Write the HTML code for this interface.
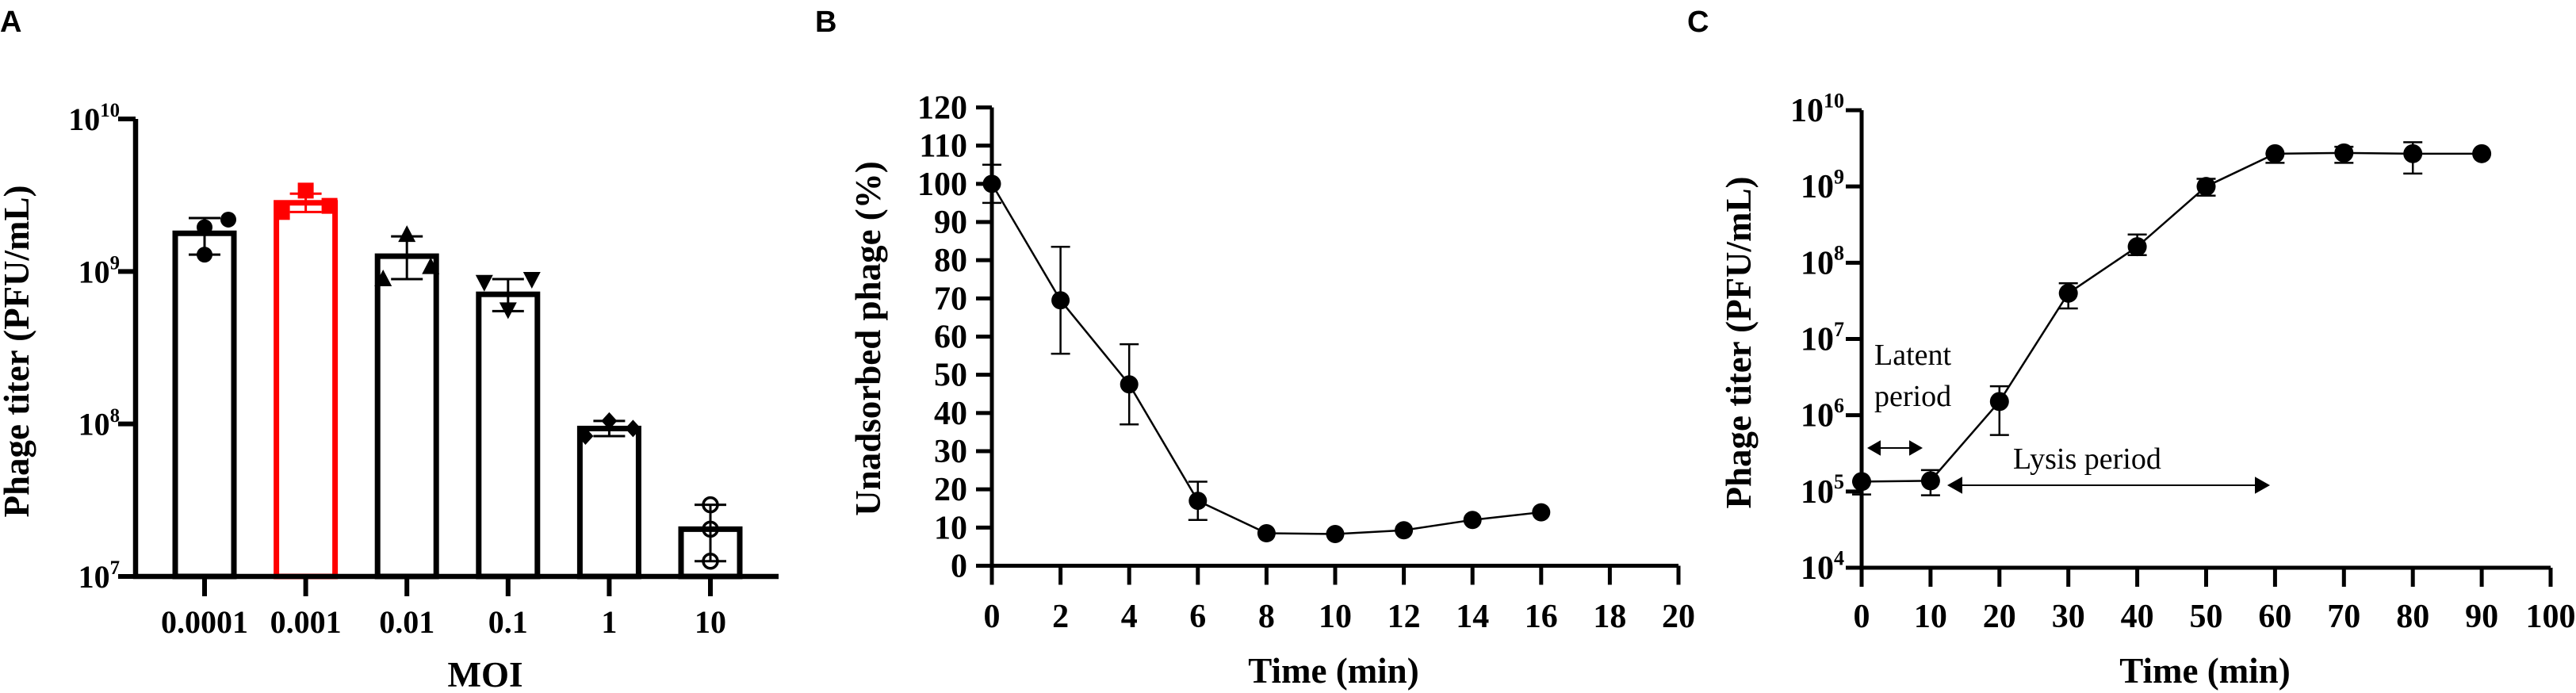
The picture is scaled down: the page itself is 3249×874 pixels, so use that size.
<!DOCTYPE html>
<html><head><meta charset="utf-8"><style>
html,body{margin:0;padding:0;background:#fff;}
svg{display:block;}
text{font-family:"Liberation Serif",serif;font-weight:bold;fill:#000;}
.pl{font-family:"Liberation Sans",sans-serif;font-weight:bold;font-size:38px;}
</style></head><body>
<svg id="fig" width="3249" height="874" viewBox="0 0 3249 874" xmlns="http://www.w3.org/2000/svg">
<text class="pl" x="0" y="40">A</text>
<text class="pl" x="1028" y="40">B</text>
<text class="pl" x="2128" y="40">C</text>
<g id="ga"></g>
<g id="gb"></g>
<g id="gc"></g>
</svg>
<script>
// Panel A data (log10 PFU/mL)
const moiLabels = ["0.0001","0.001","0.01","0.1","1","10"];
const barMeans = [9.25, 9.45, 9.10, 8.85, 7.97, 7.31];
const barErrHi = [9.35, 9.51, 9.23, 8.95, 8.02, 7.47];
const barErrLo = [9.11, 9.39, 8.95, 8.74, 7.92, 7.10];
const pointsA = [[9.34,9.29,9.11],[9.53,9.39,9.43],[9.24,8.95,9.03],[8.75,8.93,8.95],[8.02,7.92,7.97],[7.47,7.31,7.10]];
const pointOffsets = [[1,0,0],[0,-1,1],[0,-1,1],[0,-1,1],[0,-1,1],[0,0,0]];
const aTicks = [7,8,9,10];
// Panel B data
const timeB = [0,2,4,6,8,10,12,14,16];
const unadsorbed = [100,69.5,47.5,17,8.5,8.3,9.3,12,14];
const errB = [5,14,10.5,5,0,0,0,0,0];
const bYTicks = [0,10,20,30,40,50,60,70,80,90,100,110,120];
const bXTicks = [0,2,4,6,8,10,12,14,16,18,20];
// Panel C data (log10)
const timeC = [0,10,20,30,40,50,60,70,80,90];
const titerC = [5.13,5.14,6.18,7.60,8.21,9.00,9.43,9.44,9.43,9.43];
const errCHi = [5.13,5.28,6.38,7.73,8.37,9.10,9.43,9.52,9.58,9.43];
const errCLo = [4.96,4.95,5.74,7.40,8.10,8.88,9.31,9.31,9.17,9.43];
const cYTicks = [4,5,6,7,8,9,10];
const cXTicks = [0,10,20,30,40,50,60,70,80,90,100];

const NS="http://www.w3.org/2000/svg";
function mk(parent,tag,attrs,txt){const e=document.createElementNS(NS,tag);for(const k in attrs)e.setAttribute(k,attrs[k]);if(txt!==undefined)e.textContent=txt;parent.appendChild(e);return e;}
function pow10(g,x,y,exp,size){const t=mk(g,'text',{x:x,y:y,'text-anchor':'end','font-size':size});
 const a=document.createElementNS(NS,'tspan');a.textContent='10';t.appendChild(a);
 const b=document.createElementNS(NS,'tspan');b.setAttribute('dy',-size*0.42);b.setAttribute('font-size',size*0.62);b.textContent=exp;t.appendChild(b);return t;}

// ---------- Panel A ----------
(function(){
const g=document.getElementById('ga');
const x0=171, xEnd=982, yTop=150, yBot=727;
const ya=v=>yBot-(v-7)/(10-7)*(yBot-yTop);
const xa=i=>258+i*127.6;
aTicks.forEach(v=>{
 const tk=mk(g,'line',{x1:x0-22,x2:x0,y1:ya(v),y2:ya(v),stroke:'#000','stroke-width':6});
 
 
 const t=pow10(g,x0-20,ya(v)+14,String(v),40);
 
 
});
moiLabels.forEach((lab,i)=>{
 const cx=xa(i);
 const bar=mk(g,'rect',{x:cx-37,y:ya(barMeans[i]),width:74,height:yBot-ya(barMeans[i]),fill:'none',stroke:i===1?'#f00':'#000','stroke-width':7});
 
 
 const col=i===1?'#f00':'#000';
 const eb=mk(g,'path',{d:`M${cx},${ya(barErrHi[i])}V${ya(barErrLo[i])}M${cx-20},${ya(barErrHi[i])}h40M${cx-20},${ya(barErrLo[i])}h40`,stroke:col,'stroke-width':3,fill:'none'});
 
 
 pointsA[i].forEach((v,j)=>{
  const px=cx+pointOffsets[i][j]*30, py=ya(v); let p;
  if(i===0) p=mk(g,'circle',{cx:px,cy:py,r:10,fill:col});
  else if(i===1) p=mk(g,'rect',{x:px-10,y:py-10,width:20,height:20,fill:col});
  else if(i===2) p=mk(g,'path',{d:`M${px},${py-12}L${px+11},${py+9}L${px-11},${py+9}Z`,fill:col});
  else if(i===3) p=mk(g,'path',{d:`M${px},${py+12}L${px+11},${py-9}L${px-11},${py-9}Z`,fill:col});
  else if(i===4) p=mk(g,'path',{d:`M${px},${py-11}L${px+10},${py}L${px},${py+11}L${px-10},${py}Z`,fill:col});
  else p=mk(g,'circle',{cx:px,cy:py,r:9,fill:'none',stroke:col,'stroke-width':3.5});
  
  
 });
 const tk=mk(g,'line',{x1:cx,x2:cx,y1:yBot,y2:yBot+25,stroke:'#000','stroke-width':6});
 
 
 const tl=mk(g,'text',{x:cx,y:798,'text-anchor':'middle','font-size':40},lab);
 
 
});
const ax=mk(g,'path',{d:`M${x0},${yTop}V${yBot}H${xEnd}`,stroke:'#000','stroke-width':6.5,fill:'none'});


const yt=mk(g,'text',{x:0,y:0,'text-anchor':'middle','font-size':45,transform:'translate(36,443) rotate(-90)'},'Phage titer (PFU/mL)');


const xt=mk(g,'text',{x:612,y:866,'text-anchor':'middle','font-size':45},'MOI');


})();

// ---------- Panel B ----------
(function(){
const g=document.getElementById('gb');
const x0=1251, x1=2117, y0=713.5, y1=135.5;
const xb=v=>x0+v/20*(x1-x0);
const yb=v=>y0-v/120*(y0-y1);
bYTicks.forEach(v=>{
 const tk=mk(g,'line',{x1:x0-20,x2:x0,y1:yb(v),y2:yb(v),stroke:'#000','stroke-width':5});
 
 
 const t=mk(g,'text',{x:1220,y:yb(v)+14,'text-anchor':'end','font-size':42},String(v));
 
 
});
bXTicks.forEach(v=>{
 const tk=mk(g,'line',{x1:xb(v),x2:xb(v),y1:y0,y2:y0+24,stroke:'#000','stroke-width':5});
 
 
 const t=mk(g,'text',{x:xb(v),y:791,'text-anchor':'middle','font-size':42},String(v));
 
 
});
const ln=mk(g,'polyline',{points:timeB.map((t,i)=>xb(t)+','+yb(unadsorbed[i])).join(' '),fill:'none',stroke:'#000','stroke-width':2.5});


timeB.forEach((t,i)=>{
 if(errB[i]>0){
  const hi=yb(unadsorbed[i]+errB[i]), lo=yb(unadsorbed[i]-errB[i]), cx=xb(t);
  const eb=mk(g,'path',{d:`M${cx},${hi}V${lo}M${cx-12},${hi}h24M${cx-12},${lo}h24`,stroke:'#000','stroke-width':2.5,fill:'none'});
  
  
 }
 const c=mk(g,'circle',{cx:xb(t),cy:yb(unadsorbed[i]),r:11.5,fill:'#000'});
 
 
});
const ax=mk(g,'path',{d:`M${x0},${y1}V${y0}H${x1}`,stroke:'#000','stroke-width':5,fill:'none'});


const yt=mk(g,'text',{x:0,y:0,'text-anchor':'middle','font-size':45,transform:'translate(1110,427) rotate(-90)'},'Unadsorbed phage (%)');


const xt=mk(g,'text',{x:1682,y:861,'text-anchor':'middle','font-size':45},'Time (min)');


})();

// ---------- Panel C ----------
(function(){
const g=document.getElementById('gc');
const x0=2348, x1=3217, y0=716, y1=139;
const xc=v=>x0+v/100*(x1-x0);
const yc=v=>y0-(v-4)/6*(y0-y1);
cYTicks.forEach(v=>{
 const tk=mk(g,'line',{x1:x0-20,x2:x0,y1:yc(v),y2:yc(v),stroke:'#000','stroke-width':5});
 
 
 const t=pow10(g,x0-22,yc(v)+14,String(v),42);
 
 
});
cXTicks.forEach(v=>{
 const tk=mk(g,'line',{x1:xc(v),x2:xc(v),y1:y0,y2:y0+24,stroke:'#000','stroke-width':5});
 
 
 const t=mk(g,'text',{x:xc(v),y:791,'text-anchor':'middle','font-size':42},String(v));
 
 
});
const ln=mk(g,'polyline',{points:timeC.map((t,i)=>xc(t)+','+yc(titerC[i])).join(' '),fill:'none',stroke:'#000','stroke-width':2.5});


timeC.forEach((t,i)=>{
 const hi=yc(errCHi[i]), lo=yc(errCLo[i]), cx=xc(t);
 if(lo-hi>1){
  const eb=mk(g,'path',{d:`M${cx},${hi}V${lo}M${cx-12},${hi}h24M${cx-12},${lo}h24`,stroke:'#000','stroke-width':2.5,fill:'none'});
  
  
 }
 const c=mk(g,'circle',{cx:cx,cy:yc(titerC[i]),r:12,fill:'#000'});
 
 
});
const ax=mk(g,'path',{d:`M${x0},${y1}V${y0}H${x1}`,stroke:'#000','stroke-width':5,fill:'none'});


const la1=mk(g,'text',{x:2364,y:460,'font-size':38,style:'font-weight:normal'},'Latent');


const la2=mk(g,'text',{x:2364,y:512,'font-size':38,style:'font-weight:normal'},'period');


const a1=mk(g,'path',{d:'M2357,565L2371,557V573ZM2423,565L2409,557V573ZM2365,565H2415',stroke:'#000','stroke-width':2,fill:'#000'});


const lb=mk(g,'text',{x:2539,y:591,'font-size':38,style:'font-weight:normal'},'Lysis period');


const a2=mk(g,'path',{d:'M2458,612L2474,603V621ZM2861,612L2845,603V621ZM2466,612H2853',stroke:'#000','stroke-width':2,fill:'#000'});


const yt=mk(g,'text',{x:0,y:0,'text-anchor':'middle','font-size':45,transform:'translate(2208,432) rotate(-90)'},'Phage titer (PFU/mL)');


const xt=mk(g,'text',{x:2781,y:861,'text-anchor':'middle','font-size':45},'Time (min)');


})();
</script>
</body></html>
